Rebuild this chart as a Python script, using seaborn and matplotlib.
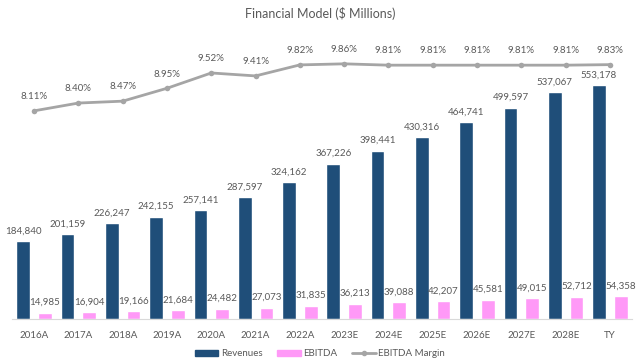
import seaborn as sns
import matplotlib.pyplot as plt
import pandas as pd
from matplotlib.lines import Line2D
from matplotlib.patches import Patch

YEARS = ["2016A", "2017A", "2018A", "2019A", "2020A", "2021A", "2022A",
         "2023E", "2024E", "2025E", "2026E", "2027E", "2028E", "TY"]
REVENUES = [184840, 201159, 226247, 242155, 257141, 287597, 324162,
            367226, 398441, 430316, 464741, 499597, 537067, 553178]
EBITDA = [14985, 16904, 19166, 21684, 24482, 27073, 31835,
          36213, 39088, 42207, 45581, 49015, 52712, 54358]
MARGIN = [8.11, 8.40, 8.47, 8.95, 9.52, 9.41, 9.82,
          9.86, 9.81, 9.81, 9.81, 9.81, 9.81, 9.83]

BLUE = "#1F4E79"
PINK = "#FF99F7"
GREY = "#A5A5A5"
TXT = "#595959"

sns.set_style("white")
plt.rcParams["font.family"] = ["Lato", "DejaVu Sans"]

df = pd.DataFrame({"year": YEARS * 2,
                   "value": REVENUES + EBITDA,
                   "series": ["Revenues"] * len(YEARS) + ["EBITDA"] * len(YEARS)})

fig = plt.figure(figsize=(6.4, 3.64), dpi=100)
ax = fig.add_axes([12 / 640, 45 / 364, 620 / 640, 296 / 364])

sns.barplot(data=df, x="year", y="value", hue="series",
            palette={"Revenues": BLUE, "EBITDA": PINK},
            width=0.98, gap=0.37, ax=ax, legend=False, saturation=1)

for cont in ax.containers:
    ax.bar_label(cont, labels=[f"{v:,.0f}" for v in cont.datavalues],
                 padding=4, fontsize=7, color=TXT)

ax.set_ylim(0, 700000)
ax.set_xlim(-0.5, len(YEARS) - 0.5)
ax.set_xlabel("")
ax.set_ylabel("")
ax.set_yticks([])
ax.tick_params(axis="x", length=0, labelsize=7, labelcolor=TXT, pad=9)
for s in ["top", "right", "left"]:
    ax.spines[s].set_visible(False)
ax.spines["bottom"].set_color("#D9D9D9")

ax2 = ax.twinx()
sns.lineplot(x=list(range(len(YEARS))), y=MARGIN, ax=ax2, color=GREY,
             marker="o", markersize=4, markeredgewidth=0, linewidth=2)
for i, m in enumerate(MARGIN):
    ax2.annotate(f"{m:.2f}%", (i, m), xytext=(0, 7), textcoords="offset points",
                 ha="center", va="bottom", fontsize=7, color=TXT)
ax2.set_ylim(0.36, 11.38)
ax2.set_yticks([])
for s in ax2.spines.values():
    s.set_visible(False)

fig.suptitle("Financial Model ($ Millions)", y=1 - 13 / 364, va="center",
             fontsize=9, color=TXT)

handles = [Patch(color=BLUE, label="Revenues"),
           Patch(color=PINK, label="EBITDA"),
           Line2D([0], [0], color=GREY, marker="o", markersize=3, lw=2,
                  label="EBITDA Margin")]
fig.legend(handles=handles, loc="center", bbox_to_anchor=(0.5, 10 / 364),
           ncol=3, frameon=False, fontsize=7, handlelength=2.4,
           handleheight=0.5, columnspacing=1.5, handletextpad=0.3,
           labelcolor=TXT)

fig.savefig("out.png", dpi=100)
